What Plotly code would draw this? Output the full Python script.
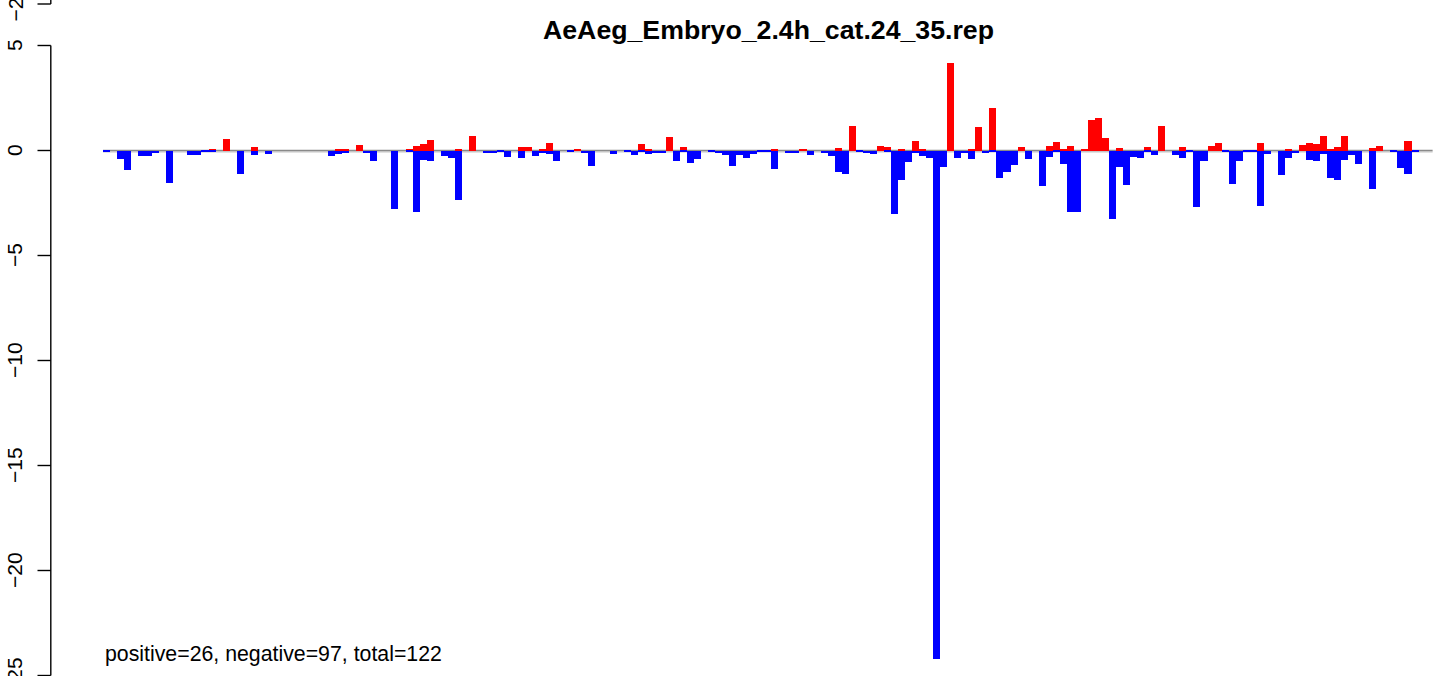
import plotly.graph_objects as go

title_text = "AeAeg_Embryo_2.4h_cat.24_35.rep"
note_text = "positive=26, negative=97, total=122"
tick_vals = [5, 0, -5, -10, -15, -20, -25]
tick_labels = ["5", "0", "\u22125", "\u221210", "\u221215", "\u221220", "\u221225"]

# positive (red) and negative (blue) values per position, left to right
pos_vals = [
    0, 0, 0, 0, 0, 0, 0, 0, 0, 0,
    0, 0, 0, 0, 0, 0.07, 0, 0.55, 0, 0,
    0, 0.17, 0, 0, 0, 0, 0, 0, 0, 0,
    0, 0, 0, 0.07, 0.05, 0, 0.28, 0, 0, 0,
    0, 0, 0, 0.07, 0.21, 0.33, 0.5, 0, 0, 0,
    0.07, 0, 0.7, 0, 0, 0, 0, 0, 0, 0.17,
    0.17, 0, 0.05, 0.36, 0, 0, 0, 0.05, 0, 0,
    0, 0, 0, 0, 0, 0, 0.31, 0.07, 0, 0,
    0.64, 0, 0.17, 0, 0, 0, 0, 0, 0, 0,
    0, 0, 0, 0, 0, 0.07, 0, 0, 0, 0.05,
    0, 0, 0, 0, 0.13, 0, 1.17, 0, 0, 0,
    0.21, 0.17, 0, 0.07, 0, 0.47, 0.07, 0, 0, 0,
    4.17, 0, 0, 0.07, 1.12, 0, 2.02, 0, 0, 0,
    0.17, 0, 0, 0, 0.21, 0.4, 0.07, 0.21, 0, 0.07,
    1.45, 1.55, 0.6, 0, 0.12, 0, 0, 0, 0.17, 0,
    1.17, 0, 0, 0.17, 0, 0, 0, 0.21, 0.36, 0,
    0, 0, 0, 0, 0.36, 0, 0, 0, 0.05, 0,
    0.26, 0.36, 0.31, 0.69, 0.07, 0.17, 0.69, 0, 0, 0,
    0.12, 0.21, 0, 0, 0, 0.45, 0, 0, 0,
]
neg_vals = [
    -0.05, 0, -0.4, -0.93, 0, -0.25, -0.25, -0.1, 0, -1.53,
    0, 0, -0.2, -0.2, -0.05, -0.05, 0, 0, 0, -1.12,
    0, -0.21, 0, -0.15, 0, 0, 0, 0, 0, 0,
    0, 0, -0.25, -0.15, -0.1, 0, 0, -0.1, -0.5, 0,
    0, -2.79, 0, -0.05, -2.93, -0.45, -0.5, 0, -0.25, -0.34,
    -2.36, 0, 0, 0, -0.1, -0.1, -0.05, -0.31, 0, -0.34,
    0, -0.25, -0.1, -0.15, -0.5, 0, -0.05, 0, -0.1, -0.74,
    0, 0, -0.15, 0, -0.07, -0.2, -0.07, -0.15, -0.1, -0.1,
    0, -0.5, -0.05, -0.6, -0.4, 0, -0.07, -0.1, -0.2, -0.74,
    -0.2, -0.34, -0.15, -0.07, -0.05, -0.87, 0, -0.1, -0.1, 0,
    -0.2, 0, -0.1, -0.25, -1.0, -1.1, 0, -0.07, -0.1, -0.15,
    0, -0.05, -3.0, -1.39, -0.53, -0.1, -0.25, -0.34, -24.2, -0.77,
    0, -0.34, -0.1, -0.4, 0, -0.1, -0.05, -1.3, -1.02, -0.67,
    0, -0.4, 0, -1.67, -0.3, -0.05, -0.64, -2.91, -2.91, 0,
    0, 0, 0, -3.25, -0.79, -1.64, -0.3, -0.34, -0.05, -0.21,
    0, 0, -0.21, -0.36, -0.05, -2.69, -0.5, 0, 0, -0.05,
    -1.6, -0.5, -0.05, -0.05, -2.64, -0.15, 0, -1.17, -0.36, -0.1,
    0, -0.45, -0.5, -0.15, -1.31, -1.4, -0.45, -0.21, -0.64, 0,
    -1.83, 0, 0, -0.05, -0.83, -1.12, -0.05, 0, 0,
]

n = len(pos_vals)
xs = list(range(n))

W, H = 1441, 676
x0_px, pitch = 103.0, 7.035          # left edge of first bar, bar pitch (px)
y0_px, ppu = 150.5, 21.0             # pixel of y=0, pixels per unit

x_lo = (0 - x0_px) / pitch - 0.5
x_hi = (W - x0_px) / pitch - 0.5
y_hi = y0_px / ppu
y_lo = (y0_px - H) / ppu

fig = go.Figure()
fig.add_trace(go.Bar(x=xs, y=pos_vals, width=1, marker=dict(color="#FF0000", line=dict(width=0)),
                     hoverinfo="skip"))
fig.add_trace(go.Bar(x=xs, y=neg_vals, width=1, marker=dict(color="#0000FF", line=dict(width=0)),
                     hoverinfo="skip"))

shapes = []
# zero reference line (drawn beneath the bars)
shapes.append(dict(type="line", xref="x", yref="y", x0=-0.5, x1=n - 0.5, y0=-1.4 / ppu, y1=-1.4 / ppu,
                   line=dict(color="#d9d9d9", width=1.6), layer="below"))
shapes.append(dict(type="line", xref="x", yref="y", x0=-0.5, x1=n - 0.5, y0=0, y1=0,
                   line=dict(color="#8a8a8a", width=1.3), layer="below"))

ax_x = 50.8 / W
tk_x = 37.5 / W
shapes.append(dict(type="line", xref="paper", yref="y", x0=ax_x, x1=ax_x, y0=max(tick_vals), y1=min(tick_vals),
                   line=dict(color="black", width=1.4)))
annotations = []
for v, lab in zip(tick_vals, tick_labels):
    shapes.append(dict(type="line", xref="paper", yref="y", x0=tk_x, x1=ax_x, y0=v, y1=v,
                       line=dict(color="black", width=1.4)))
    annotations.append(dict(xref="paper", yref="y", x=14.5 / W, y=v, text=lab, showarrow=False,
                            textangle=-90, xanchor="center", yanchor="middle",
                            font=dict(family="Liberation Sans, Arial", size=21, color="black")))

# remnant of the panel above (cropped at the top edge, as in the reference)
top_tick = (y0_px - 4.0) / ppu
shapes.append(dict(type="line", xref="paper", yref="y", x0=ax_x, x1=ax_x, y0=top_tick, y1=y_hi + 1,
                   line=dict(color="black", width=1.4)))
shapes.append(dict(type="line", xref="paper", yref="y", x0=tk_x, x1=ax_x, y0=top_tick, y1=top_tick,
                   line=dict(color="black", width=1.4)))
annotations.append(dict(xref="paper", yref="y", x=14.5 / W, y=top_tick, text="\u221225", showarrow=False,
                        textangle=-90, xanchor="center", yanchor="middle",
                        font=dict(family="Liberation Sans, Arial", size=21, color="black")))

annotations.append(dict(xref="paper", yref="paper", x=768 / W, y=1 - 30 / H, text="<b>" + title_text + "</b>",
                        showarrow=False, xanchor="center", yanchor="middle",
                        font=dict(family="Liberation Sans, Arial", size=26.7, color="black")))
annotations.append(dict(xref="paper", yref="paper", x=103 / W, y=1 - 654 / H, text=note_text,
                        showarrow=False, xanchor="left", yanchor="middle",
                        font=dict(family="Liberation Sans, Arial", size=21.3, color="black")))

fig.update_layout(
    width=W, height=H,
    margin=dict(l=0, r=0, t=0, b=0, pad=0),
    paper_bgcolor="white", plot_bgcolor="white",
    barmode="overlay", bargap=0,
    showlegend=False,
    xaxis=dict(range=[x_lo, x_hi], visible=False, fixedrange=True),
    yaxis=dict(range=[y_lo, y_hi], visible=False, fixedrange=True),
    shapes=shapes, annotations=annotations,
)

fig.write_html("out.html", include_plotlyjs=True, full_html=True,
               config={"displayModeBar": False},
               post_script="document.body.style.margin='0';document.body.style.padding='0';")
